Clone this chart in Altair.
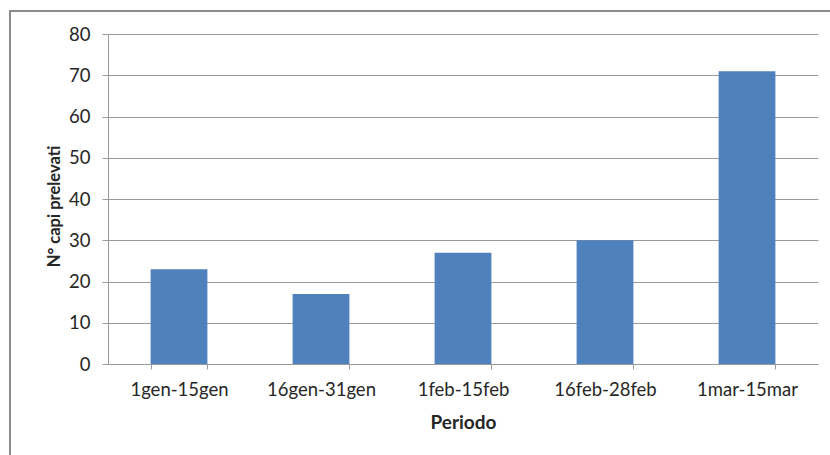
import altair as alt
import pandas as pd

# Periods and number of animals taken in each
periodi = ["1gen-15gen", "16gen-31gen", "1feb-15feb", "16feb-28feb", "1mar-15mar"]
capi = [23, 17, 27, 30, 71]

df = pd.DataFrame({"Periodo": periodi, "Capi": capi})

FONT = "Lato"
TEXT = "#262626"
GRID = "#9a9a9a"

bars = alt.Chart(df).mark_bar(color="#4F81BD").encode(
    x=alt.X(
        "Periodo:N",
        sort=periodi,
        scale=alt.Scale(paddingInner=0.6, paddingOuter=0.3),
        axis=alt.Axis(
            title="Periodo",
            labelAngle=0,
            labelFont=FONT,
            labelFontSize=18.5,
            labelColor=TEXT,
            labelPadding=11,
            tickBand="extent",
            tickSize=5,
            tickColor=GRID,
            domainColor=GRID,
            titleFont=FONT,
            titleFontSize=19,
            titleFontWeight="bold",
            titleColor=TEXT,
            titleY=58,
            titleBaseline="middle",
        ),
    ),
    y=alt.Y(
        "Capi:Q",
        scale=alt.Scale(domain=[0, 80], nice=False),
        axis=alt.Axis(
            title="N° capi prelevati",
            values=list(range(0, 81, 10)),
            labelFont=FONT,
            labelFontSize=18.5,
            labelColor=TEXT,
            labelPadding=12,
            tickSize=6,
            tickColor=GRID,
            domainColor=GRID,
            gridColor=GRID,
            grid=True,
            titleFont=FONT,
            titleFontSize=16.5,
            titleFontWeight="bold",
            titleColor=TEXT,
            titleX=-54,
            titleY=172,
            titleAngle=-90,
            titleAlign="center",
            titleBaseline="middle",
        ),
    ),
)

# Outer chart frame (open to the right and bottom)
frame = alt.Chart(df).mark_rect(
    fill=None, stroke="#8c8c8c", strokeWidth=1.5, clip=False
).encode(
    x=alt.value(-98), x2=alt.value(740), y=alt.value(-23), y2=alt.value(440)
)

chart = alt.layer(frame, bars).properties(
    width=710,
    height=330,
    autosize=alt.AutoSizeParams(type="none"),
    padding={"left": 108, "top": 34, "right": 12, "bottom": 91},
    background="white",
).configure_view(stroke=None)

chart.save("out.html", embed_options={"renderer": "svg", "actions": False})
